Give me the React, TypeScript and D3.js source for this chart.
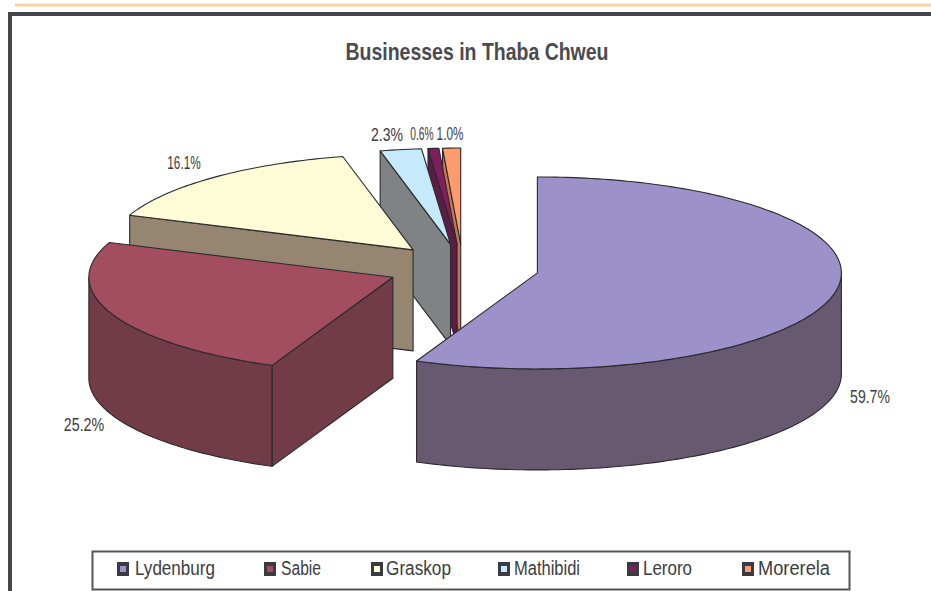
import React from "react";
import * as d3 from "d3";

const title = "Businesses in Thaba Chweu";
const towns = ["Lydenburg", "Sabie", "Graskop", "Mathibidi", "Leroro", "Morerela"];
const shares = [59.7, 25.2, 16.1, 2.3, 0.6, 1.0];
const shareLabels = ["59.7%", "25.2%", "16.1%", "2.3%", "0.6%", "1.0%"];
const topColors = ["#9c91c8", "#a24d60", "#fefcd6", "#c6eafb", "#7e1f5b", "#fd9b6c"];
const sideColors = ["#67596f", "#713b47", "#958571", "#7f8383", "#5c1c45", "#c9744f"];

const WIDTH = 931;
const HEIGHT = 591;
const cx = 463;
const cy = 268;
const rx = 304;
const ry = 96;
const depth = 101;
const explode = 0.25;

// Horizontal squeeze stands in for a condensed face.
const labelBoxes = [
  { x: 870, y: 396, squeeze: 0.74 },
  { x: 84, y: 424, squeeze: 0.75 },
  { x: 184, y: 162, squeeze: 0.62 },
  { x: 387, y: 134, squeeze: 0.74 },
  { x: 422, y: 133, squeeze: 0.54 },
  { x: 450, y: 133, squeeze: 0.62 },
];
const legendSwatchX = [117, 264, 371, 498, 627, 742];
const legendTextX = [135, 281, 386, 514, 643, 758];
const legendTextW = [80, 40, 65, 66, 49, 72];

const pieLayout = d3
  .pie<number>()
  .sort(null)
  .value((d) => d);
const slices = pieLayout(shares);

// The tilted camera pulls the front-left of the disc slightly toward the viewer.
const tilt = (angle: number) => angle - 0.028 * Math.pow(Math.sin(angle / 2), 4);

const project = (angle: number, radius: number, ox: number, oy: number): [number, number] => [
  ox + radius * rx * Math.sin(tilt(angle)),
  oy - radius * ry * Math.cos(tilt(angle)),
];

const line = d3.line<[number, number]>();

function arcPoints(a0: number, a1: number, ox: number, oy: number, dy = 0): [number, number][] {
  const n = Math.max(2, Math.ceil((a1 - a0) / 0.02));
  return d3.range(n + 1).map((i) => {
    const [x, y] = project(a0 + ((a1 - a0) * i) / n, 1, ox, oy);
    return [x, y + dy] as [number, number];
  });
}

function Slice({ index }: { index: number }) {
  const s = slices[index];
  const mid = (s.startAngle + s.endAngle) / 2;
  const [ox, oy] = project(mid, explode, cx, cy);
  const apex: [number, number] = [ox, oy];
  const stroke = "#2a2a2e";
  const common = { stroke, strokeWidth: 1.1, strokeLinejoin: "round" as const };
  const wall = (angle: number) => {
    const p = project(angle, 1, ox, oy);
    return (
      line([apex, p, [p[0], p[1] + depth], [apex[0], apex[1] + depth]]) + "Z"
    );
  };
  // The rim shows only along the front half of the ellipse.
  const frontStart = Math.max(s.startAngle, Math.PI / 2);
  const frontEnd = Math.min(s.endAngle, (3 * Math.PI) / 2);
  const rim =
    frontEnd > frontStart
      ? line([
          ...arcPoints(frontStart, frontEnd, ox, oy),
          ...arcPoints(frontStart, frontEnd, ox, oy, depth).reverse(),
        ]) + "Z"
      : null;
  const top = line([apex, ...arcPoints(s.startAngle, s.endAngle, ox, oy)]) + "Z";
  return (
    <g>
      {s.startAngle >= Math.PI && (
        <path d={wall(s.startAngle)} fill={sideColors[index]} {...common} />
      )}
      {s.endAngle <= Math.PI && (
        <path d={wall(s.endAngle)} fill={sideColors[index]} {...common} />
      )}
      {rim && <path d={rim} fill={sideColors[index]} {...common} />}
      <path d={top} fill={topColors[index]} {...common} />
    </g>
  );
}

const sans = "'Liberation Sans', Arial, sans-serif";

export default function App() {
  const order = d3.range(towns.length).reverse();
  return (
    <svg
      width={WIDTH}
      height={HEIGHT}
      viewBox={`0 0 ${WIDTH} ${HEIGHT}`}
      style={{ position: "fixed", left: 0, top: 0, background: "#fff" }}
    >
      <line x1={15} x2={WIDTH} y1={5} y2={5} stroke="#fcd3a4" strokeWidth={3} />
      <path d={`M10 ${HEIGHT}V14H${WIDTH}`} fill="none" stroke="#46464c" strokeWidth={4} />

      <text
        x={477}
        y={60}
        textAnchor="middle"
        fontFamily={sans}
        fontWeight={700}
        fontSize={24}
        fill="#4a4a50"
        textLength={263}
        lengthAdjust="spacingAndGlyphs"
      >
        {title}
      </text>

      {order.map((i) => (
        <Slice key={towns[i]} index={i} />
      ))}

      {shareLabels.map((t, i) => (
        <text
          key={t}
          transform={`translate(${labelBoxes[i].x},${labelBoxes[i].y + 7}) scale(${labelBoxes[i].squeeze},1)`}
          textAnchor="middle"
          fontFamily={sans}
          fontSize={19}
          fill="#3c3c42"
        >
          {t}
        </text>
      ))}

      <rect x={92.5} y={551.5} width={757} height={38} fill="#fff" stroke="#55555a" strokeWidth={2} />
      {towns.map((t, i) => (
        <g key={t}>
          <rect x={legendSwatchX[i]} y={562} width={12} height={14} fill="#3a3a42" />
          <rect x={legendSwatchX[i] + 3} y={566} width={6} height={6} fill={topColors[i]} />
          <text
            x={legendTextX[i]}
            y={575}
            fontFamily={sans}
            fontSize={20}
            fill="#3c3c42"
            textLength={legendTextW[i]}
            lengthAdjust="spacingAndGlyphs"
          >
            {t}
          </text>
        </g>
      ))}
    </svg>
  );
}
